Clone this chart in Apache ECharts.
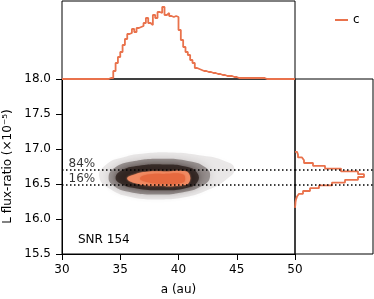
<!DOCTYPE html>
<html><head><meta charset="utf-8">
<script src="https://cdn.jsdelivr.net/npm/echarts@6/dist/echarts.min.js"></script>
<style>html,body{margin:0;padding:0;background:#fff}#c{width:374px;height:299px}</style>
</head><body><div id="c"></div>
<script>
// ---- data ----
const xTicks = [30, 35, 40, 45, 50];
const yTicks = [15.5, 16.0, 16.5, 17.0, 17.5, 18.0];
const aBinStart = 30, aBinWidth = 0.2;
const aCounts = [
  0,0,0,0,0,0,0,0,0,0, 0,0,0,0,0,0,0,0,0,0,
  1,1,8,16,22,27,34,40,45,46,
  50,47,51,52,53,56,61,56,54,64,
  61,67,66,72,64,66,63,62,63,62,
  49,39,32,27,24,19,16,11,10,9,
  8,8,7,7,6,6,5,5,4,4,
  3,3,3,2,2,
  1,1,1,1,1,1,1,1,1,1,1,1,
  0,0,0,0,0,0,0,0,0,0,0,0,0
];
const vBinStart = 16.16, vBinWidth = 0.04;
const vCounts = [0.3,0.5,1,2,4,8,15,24,37,50,63,69,63,46,30,18,9,7,3,2];
const quantileValues = [16.485, 16.70];
const quantileLabels = ['16%', '84%'];
const seriesName = 'c';
const panelText = 'SNR 154';
// density levels of the (a, flux-ratio) sample cloud, outermost first
const cloudLevels = [
  [[33.2,16.60],[33.8,16.78],[35.2,16.88],[37.2,16.94],[39.5,16.95],[41.8,16.91],[43.8,16.84],[44.8,16.72],[44.0,16.55],[42.3,16.40],[40.5,16.31],[38.3,16.28],[36.0,16.31],[34.2,16.42]],
  [[34.0,16.60],[34.5,16.73],[36.0,16.82],[38.5,16.86],[40.8,16.83],[42.3,16.74],[42.7,16.60],[42.0,16.47],[40.3,16.38],[38.0,16.35],[35.7,16.39],[34.4,16.48]],
  [[34.6,16.59],[35.2,16.70],[36.6,16.76],[38.6,16.78],[40.6,16.75],[41.6,16.66],[41.6,16.52],[40.6,16.44],[38.5,16.41],[36.3,16.44],[35.1,16.50]],
  [[35.6,16.575],[36.3,16.64],[37.3,16.675],[39.0,16.68],[40.4,16.685],[40.9,16.645],[40.9,16.52],[40.3,16.48],[38.0,16.475],[36.6,16.50]],
  [[36.7,16.58],[37.4,16.635],[39.0,16.645],[40.2,16.645],[40.55,16.60],[40.35,16.52],[38.5,16.505],[37.3,16.53]]
];

// ---- styles ----
const FONT = 'DejaVu Sans';
const ORANGE = '#e9724c';
const cloudColors = ['rgba(60,40,35,0.10)','rgba(30,18,14,0.36)','rgba(35,22,18,0.72)','#f08a62','#e6693f'];
const cloudBlur = [12, 9, 6, 2, 2];

// ---- build step outlines from the bins ----
const topData = [[aBinStart, 0]];
aCounts.forEach((c, i) => {
  topData.push([aBinStart + i * aBinWidth, c]);
  topData.push([aBinStart + (i + 1) * aBinWidth, c]);
});
topData.push([aBinStart + aCounts.length * aBinWidth, 0]);

const rightData = [[0, vBinStart]];
vCounts.forEach((c, i) => {
  rightData.push([c, vBinStart + i * vBinWidth]);
  rightData.push([c, vBinStart + (i + 1) * vBinWidth]);
});
rightData.push([0, vBinStart + vCounts.length * vBinWidth]);

const chart = echarts.init(document.getElementById('c'), null, {renderer: 'canvas'});
const axisFont = {fontFamily: FONT, fontSize: 12, color: '#000'};
const line = {show: true, lineStyle: {color: '#000', width: 1}};

const series = [
  {
    type: 'custom', xAxisIndex: 0, yAxisIndex: 0, clip: true, z: 1,
    data: cloudLevels.map(p => p[0]),
    renderItem: (params, api) => {
      const i = params.dataIndex;
      const pts = cloudLevels[i].map(p => api.coord(p));
      return {type: 'polygon', shape: {points: pts, smooth: 0.5},
        style: {fill: cloudColors[i], shadowBlur: cloudBlur[i], shadowColor: cloudColors[i]}};
    }
  },
  {
    name: seriesName, type: 'line', xAxisIndex: 1, yAxisIndex: 1,
    symbol: 'none', data: topData, lineStyle: {color: ORANGE, width: 1.8}, itemStyle: {color: ORANGE}, z: 3
  },
  {
    name: seriesName, type: 'line', xAxisIndex: 2, yAxisIndex: 2,
    symbol: 'none', data: rightData, lineStyle: {color: ORANGE, width: 1.8}, itemStyle: {color: ORANGE}, z: 3
  }
];
quantileValues.forEach((q, k) => {
  series.push({type: 'line', xAxisIndex: 0, yAxisIndex: 0, symbol: 'none', silent: true, z: 5,
    data: [[xTicks[0], q], [xTicks[xTicks.length - 1], q]],
    lineStyle: {color: '#000', width: 1.5, type: [1.5, 2.5]}});
  series.push({type: 'line', xAxisIndex: 2, yAxisIndex: 2, symbol: 'none', silent: true, z: 5,
    data: [[0, q], [78, q]],
    lineStyle: {color: '#000', width: 1.5, type: [1.5, 2.5]}});
});
series.push({
  type: 'scatter', xAxisIndex: 0, yAxisIndex: 0, symbolSize: 1, silent: true, z: 6,
  itemStyle: {color: 'transparent'},
  data: quantileValues.map((q, k) => ({value: [xTicks[0], q], name: quantileLabels[k]})),
  label: {show: true, position: [7, -12], formatter: p => p.name, fontFamily: FONT, fontSize: 12, color: '#000'}
});

const gridBase = {show: true, borderColor: '#000', borderWidth: 1, backgroundColor: 'transparent', containLabel: false, outerBoundsMode: 'none'};
chart.setOption({
  animation: false,
  backgroundColor: '#fff',
  grid: [
    Object.assign({left: 62, top: 79, width: 233, height: 175}, gridBase),
    Object.assign({left: 62, top: 1, width: 233, height: 78}, gridBase),
    Object.assign({left: 295, top: 79, width: 78, height: 175}, gridBase)
  ],
  xAxis: [
    {gridIndex: 0, type: 'value', min: xTicks[0], max: xTicks[xTicks.length - 1], interval: 5,
      axisLine: line, axisTick: {show: true, length: 6, lineStyle: {color: '#000'}},
      axisLabel: Object.assign({margin: 10}, axisFont), splitLine: {show: false},
      name: 'a (au)', nameLocation: 'middle', nameGap: 30, nameTextStyle: axisFont},
    {gridIndex: 1, type: 'value', min: xTicks[0], max: xTicks[xTicks.length - 1], show: false},
    {gridIndex: 2, type: 'value', min: 0, max: 78, show: false}
  ],
  yAxis: [
    {gridIndex: 0, type: 'value', min: yTicks[0], max: yTicks[yTicks.length - 1], interval: 0.5,
      axisLine: line, axisTick: {show: true, length: 6, lineStyle: {color: '#000'}},
      axisLabel: Object.assign({margin: 11, formatter: v => v.toFixed(1)}, axisFont), splitLine: {show: false},
      name: 'L flux-ratio (×10⁻⁵)', nameLocation: 'middle', nameGap: 45, nameRotate: 90, nameTextStyle: axisFont},
    {gridIndex: 1, type: 'value', min: 0, max: 78, show: false},
    {gridIndex: 2, type: 'value', min: yTicks[0], max: yTicks[yTicks.length - 1], show: false}
  ],
  graphic: [
    {type: 'text', left: 78, top: 234, style: {text: panelText, font: '12px "DejaVu Sans"', fill: '#000'}},
    {type: 'line', shape: {x1: 335, y1: 20, x2: 348, y2: 20}, style: {stroke: ORANGE, lineWidth: 2}},
    {type: 'text', x: 353, y: 20, style: {text: seriesName, font: '12px "DejaVu Sans"', fill: '#000', verticalAlign: 'middle', align: 'left'}}
  ],
  series: series
});
</script></body></html>
